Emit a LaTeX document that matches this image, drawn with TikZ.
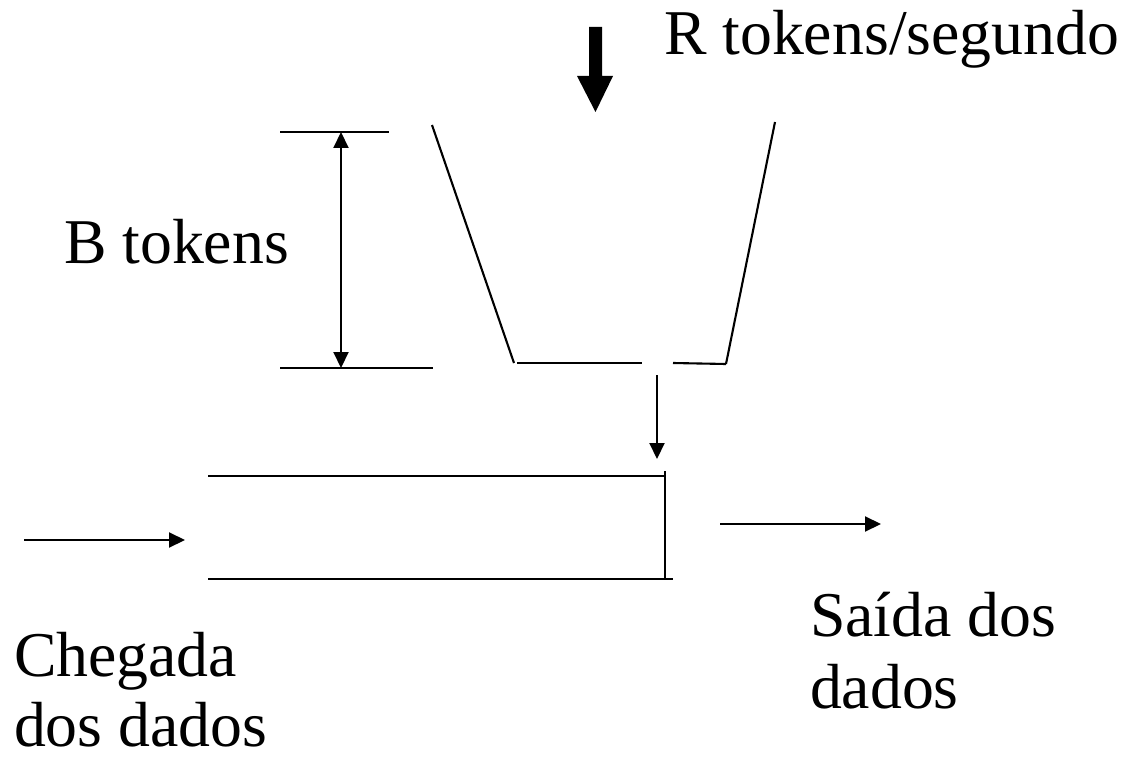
\documentclass[tikz,border=0pt]{standalone}
\usepackage{fontspec}
\setmainfont{Liberation Serif}
\usetikzlibrary{arrows.meta}
\begin{document}
\begin{tikzpicture}[x=0.02cm,y=-0.02cm,
  ln/.style={line width=0.042cm,line cap=butt},
  arr/.style={ln,-{Triangle[length=0.32cm,width=0.3cm]}},
  darr/.style={ln,{Triangle[length=0.32cm,width=0.3cm]}-{Triangle[length=0.32cm,width=0.3cm]}},
  lbl/.style={inner sep=0pt,outer sep=0pt,font=\fontsize{36.3}{41.8}\selectfont,align=left}]
\useasboundingbox (0,0) rectangle (1126,757);
% labels
\node[lbl,anchor=base west] (rate) at (664,55) {R tokens/segundo};
\node[lbl,anchor=base west] (btok) at (64,263) {B tokens};
\node[lbl,anchor=base west] (saida1) at (810,636) {Saída dos};
\node[lbl,anchor=base west] (saida2) at (810,708) {dados};
\node[lbl,anchor=base west] (cheg1) at (14,676) {Chegada};
\node[lbl,anchor=base west] (cheg2) at (14,746) {dos dados};
% thick token arrow
\fill (589,27) -- (602,27) -- (602,76) -- (613,76) -- (595.5,112) -- (577,76) -- (589,76) -- cycle;
% bucket
\coordinate (lt) at (432,125);
\coordinate (lb) at (514,363);
\coordinate (rt) at (775,122);
\coordinate (rb) at (726,364);
\coordinate (bl) at (517,363);
\coordinate (bm1) at (642,363);
\coordinate (bm2) at (673,363);
\draw[ln] (lt) -- (lb);
\draw[ln] (rt) -- (rb);
\draw[ln] (bl) -- (bm1);
\draw[ln] (bm2) -- (rb);
% bracket
\coordinate (tl1) at (280,132);
\coordinate (tl2) at (389,132);
\coordinate (bl1) at (280,368);
\coordinate (bl2) at (433,368);
\coordinate (at) at (341,132);
\coordinate (ab) at (341,368);
\draw[ln] (tl1) -- (tl2);
\draw[ln] (bl1) -- (bl2);
\draw[darr] (at) -- (ab);
% token drop arrow
\coordinate (d1) at (657,375);
\coordinate (d2) at (657,459);
\draw[arr] (d1) -- (d2);
% queue
\coordinate (qtl) at (208,476);
\coordinate (qtr) at (665,476);
\coordinate (qbl) at (208,579);
\coordinate (qbr) at (673,579);
\coordinate (qv1) at (665,471);
\coordinate (qv2) at (665,579);
\draw[ln] (qtl) -- (qtr);
\draw[ln] (qbl) -- (qbr);
\draw[ln] (qv1) -- (qv2);
% in / out arrows
\coordinate (i1) at (24,540);
\coordinate (i2) at (185,540);
\coordinate (o1) at (720,524);
\coordinate (o2) at (881,524);
\draw[arr] (i1) -- (i2);
\draw[arr] (o1) -- (o2);
\end{tikzpicture}
\end{document}
